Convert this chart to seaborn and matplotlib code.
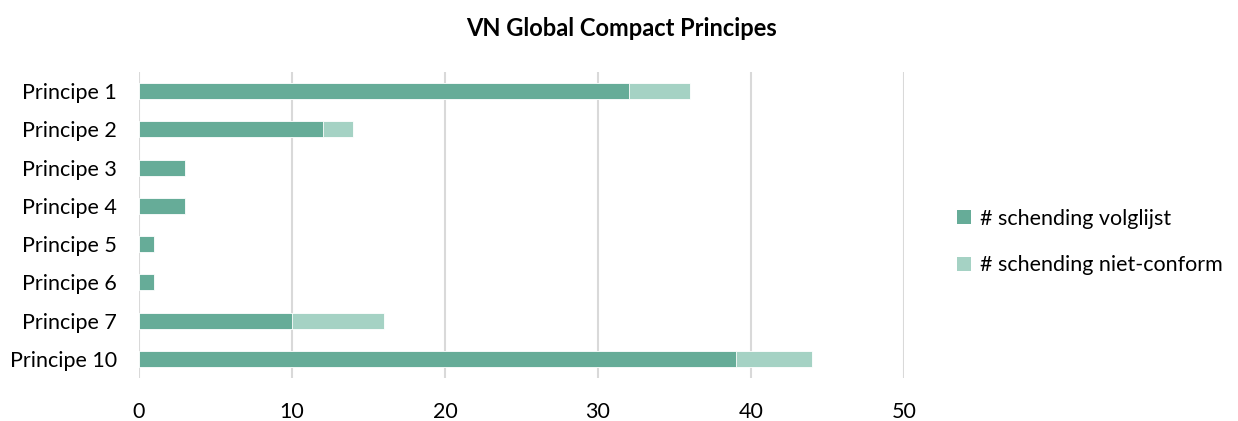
import matplotlib
matplotlib.use("Agg")
import matplotlib.pyplot as plt
import seaborn as sns
import pandas as pd
from matplotlib.patches import Patch

categories = ["Principe 1", "Principe 2", "Principe 3", "Principe 4",
              "Principe 5", "Principe 6", "Principe 7", "Principe 10"]
volglijst = [32, 12, 3, 3, 1, 1, 10, 39]
niet_conform = [4, 2, 0, 0, 0, 0, 6, 5]
series_names = ["# schending volglijst", "# schending niet-conform"]
xticks = [0, 10, 20, 30, 40, 50]

dark = "#66AC98"
light = "#A5D2C4"

sns.set_theme(style="white")
plt.rcParams["font.family"] = ["Lato", "DejaVu Sans"]
plt.rcParams["text.color"] = "#000000"

df = pd.DataFrame({
    "cat": categories,
    "volg": volglijst,
    "total": [a + b for a, b in zip(volglijst, niet_conform)],
})

fig = plt.figure(figsize=(12.38, 4.21), dpi=100)
ax = fig.add_axes([139 / 1238, 1 - 378 / 421, (904 - 139) / 1238, (378 - 72) / 421])

sns.barplot(data=df, x="total", y="cat", orient="h", color=light, width=0.42,
            saturation=1, ax=ax, zorder=3, edgecolor="white", linewidth=0.6)
sns.barplot(data=df, x="volg", y="cat", orient="h", color=dark, width=0.42,
            saturation=1, ax=ax, zorder=4, edgecolor="white", linewidth=0.6)

ax.set_xlim(0, 50)
ax.set_ylim(7.5, -0.5)
ax.set_xticks(xticks)
ax.set_xticklabels([str(t) for t in xticks])
ax.xaxis.grid(True, color="#D9D9D9", linewidth=1.5, zorder=0)
ax.set_axisbelow(True)
for s in ax.spines.values():
    s.set_visible(False)
ax.set_xlabel("")
ax.set_ylabel("")
ax.tick_params(axis="x", length=0, pad=17, labelsize=15.5, colors="#000000")
ax.tick_params(axis="y", length=0, pad=16, labelsize=15.5, colors="#000000")

fig.text(622 / 1238, 1 - 28 / 421, "VN Global Compact Principes", ha="center", va="center",
         fontsize=17, fontweight="bold", color="#000000")

handles = [Patch(facecolor=dark, edgecolor="none"), Patch(facecolor=light, edgecolor="none")]
fig.legend(handles, series_names, loc="center left", bbox_to_anchor=(938 / 1238, 1 - 242 / 421),
           frameon=False, fontsize=15.5, handlelength=0.65, handleheight=0.65,
           handletextpad=0.4, labelspacing=1.25, labelcolor="#000000")

fig.savefig("out.png", dpi=100)
